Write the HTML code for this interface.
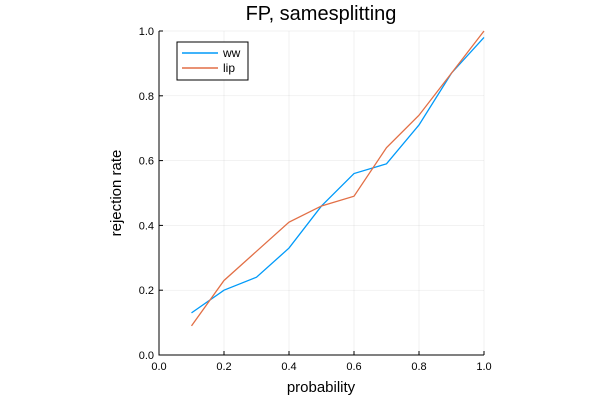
<!DOCTYPE html>
<html><head><meta charset="utf-8"><style>
body{margin:0;background:#fff;}
svg{display:block;font-family:"Liberation Sans","DejaVu Sans",sans-serif;}
</style></head><body>
<svg id="chart" width="600" height="400">
<rect width="600" height="400" fill="#fff"/>
<g id="grid"></g>
<g id="axes"></g>
<g id="series"></g>
<text x="321" y="20" text-anchor="middle" font-size="20" fill="#000">FP, samesplitting</text>
<text x="321" y="392" text-anchor="middle" font-size="15" fill="#000">probability</text>
<text transform="translate(121,193) rotate(-90)" text-anchor="middle" font-size="15" fill="#000">rejection rate</text>
<g>
<rect x="177" y="42" width="71" height="38" fill="#fff" stroke="#000" stroke-width="1"/>
<line x1="182" y1="53" x2="218" y2="53" stroke="#009af9" stroke-width="1.5"/>
<text x="223" y="57" font-size="12">ww</text>
<line x1="182" y1="68" x2="218" y2="68" stroke="#e26f46" stroke-width="1.5"/>
<text x="223" y="72" font-size="12">lip</text>
</g>
</svg>
<script>
const xValues=[0.1,0.2,0.3,0.4,0.5,0.6,0.7,0.8,0.9,1.0];
const wwValues=[0.13,0.20,0.24,0.33,0.46,0.56,0.59,0.71,0.87,0.98];
const lipValues=[0.09,0.23,0.32,0.41,0.46,0.49,0.64,0.74,0.87,1.0];
const tickValues=[0,0.2,0.4,0.6,0.8,1.0];
const tickLabels=["0.0","0.2","0.4","0.6","0.8","1.0"];
const L=159,R=484,T=31,B=355;
const sx=v=>L+v*(R-L), sy=v=>B-v*(B-T);
const NS="http://www.w3.org/2000/svg";
function mk(tag,attrs,parent){const e=document.createElementNS(NS,tag);for(const k in attrs)e.setAttribute(k,attrs[k]);parent.appendChild(e);return e;}
const grid=document.getElementById('grid'),axes=document.getElementById('axes'),series=document.getElementById('series');
tickValues.forEach((t,i)=>{
 const gx=mk('line',{x1:sx(t),x2:sx(t),y1:T,y2:B,stroke:'#000','stroke-opacity':0.1,'stroke-width':0.5},grid);
 
 
 const gy=mk('line',{x1:L,x2:R,y1:sy(t),y2:sy(t),stroke:'#000','stroke-opacity':0.1,'stroke-width':0.5},grid);
 
 
 const tx=mk('line',{x1:sx(t),x2:sx(t),y1:B,y2:B-4,stroke:'#000'},axes);
 
 
 const ty=mk('line',{x1:L,x2:L+4,y1:sy(t),y2:sy(t),stroke:'#000'},axes);
 
 
 const lx=mk('text',{x:sx(t),y:B+15,'text-anchor':'middle','font-size':11},axes);lx.textContent=tickLabels[i];
 
 
 const ly=mk('text',{x:L-5,y:sy(t)+4,'text-anchor':'end','font-size':11},axes);ly.textContent=tickLabels[i];
 
 
});
const ax=mk('path',{d:`M${L},${T}V${B}H${R}`,fill:'none',stroke:'#000','stroke-width':1},axes);


function line(vals,color,name){
 const p=mk('polyline',{points:xValues.map((x,i)=>sx(x)+','+sy(vals[i])).join(' '),fill:'none',stroke:color,'stroke-width':1.3},series);
 
 
}
line(wwValues,'#009af9','series-ww');
line(lipValues,'#e26f46','series-lip');
</script>
</body></html>
